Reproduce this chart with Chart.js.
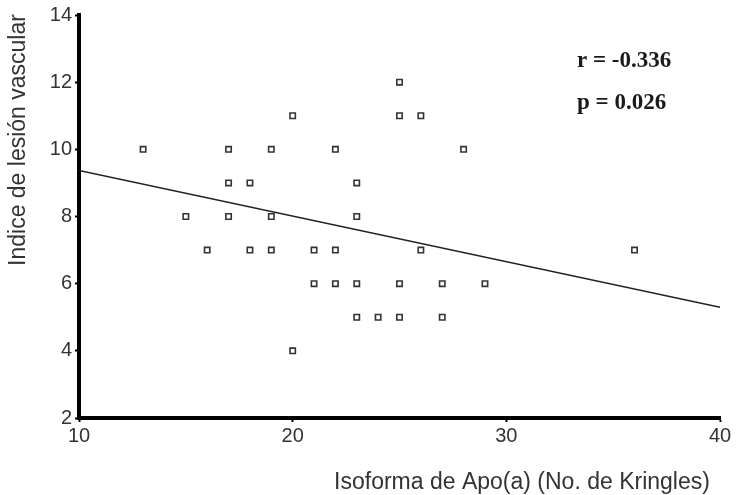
<!DOCTYPE html>
<html>
<head>
<meta charset="utf-8">
<script src="https://cdn.jsdelivr.net/npm/chart.js@4/dist/chart.umd.min.js"></script>
<style>
  html, body { margin: 0; padding: 0; background: #fff; }
  #wrap { width: 738px; height: 495px; }
</style>
</head>
<body>
<div id="wrap"><canvas id="chart"></canvas></div>
<script>
// kringles (x) and vascular lesion index (y)
const kringles = [13, 15, 16, 17, 17, 17, 18, 18, 19, 19, 19, 20, 20, 21, 21, 22, 22, 22,
                  23, 23, 23, 23, 24, 25, 25, 25, 25, 26, 26, 27, 27, 28, 29, 36];
const lesion   = [10, 8, 7, 10, 9, 8, 9, 7, 10, 8, 7, 11, 4, 7, 6, 10, 7, 6,
                  9, 8, 6, 5, 5, 12, 11, 6, 5, 11, 7, 6, 5, 10, 6, 7];

// fitted regression line end points
const fitX = [10, 40];
const fitY = [9.37, 5.3];

const statLines = ['r = -0.336', 'p = 0.026'];
const xTitle = 'Isoforma de Apo(a) (No. de Kringles)';
const yTitle = 'Indice de lesión vascular';

const points = kringles.map((x, i) => ({ x: x, y: lesion[i] }));
const fit = fitX.map((x, i) => ({ x: x, y: fitY[i] }));

const sans = '"Liberation Sans", Arial, sans-serif';

const textPlugin = {
    id: 'texts',
    afterDraw(chart) {
        const ctx = chart.ctx;
        ctx.save();
        ctx.fillStyle = '#1a1a1a';
        ctx.font = 'bold 23px "Liberation Serif", "Times New Roman", serif';
        ctx.textAlign = 'left';
        ctx.textBaseline = 'middle';
        ctx.fillText(statLines[0], 577, 61);
        ctx.fillText(statLines[1], 577, 103);

        ctx.font = '23px ' + sans;
        ctx.fillStyle = '#333';
        ctx.textAlign = 'center';
        ctx.fillText(xTitle, 522, 483);

        ctx.translate(19, 140);
        ctx.rotate(-Math.PI / 2);
        ctx.fillText(yTitle, 0, 0);
        ctx.restore();
    }
};

new Chart(document.getElementById('chart'), {
    type: 'scatter',
    data: {
        datasets: [{
            data: points,
            pointStyle: 'rect',
            pointRadius: 3.8,
            pointHoverRadius: 3.8,
            borderWidth: 1.6,
            borderColor: '#333',
            backgroundColor: '#fff'
        }, {
            data: fit,
            showLine: true,
            pointRadius: 0,
            borderWidth: 1.5,
            borderColor: '#222'
        }]
    },
    options: {
        responsive: true,
        maintainAspectRatio: false,
        animation: false,
        events: [],
        layout: { padding: { top: 15, right: 18, left: 0, bottom: 0 } },
        plugins: {
            legend: { display: false },
            tooltip: { enabled: false }
        },
        scales: {
            x: {
                min: 10,
                max: 40,
                afterFit(scale) { scale.height = 77; },
                ticks: {
                    stepSize: 10,
                    color: '#333',
                    padding: 2,
                    font: { size: 20, family: sans }
                },
                grid: {
                    drawOnChartArea: false,
                    tickLength: 4,
                    tickWidth: 2,
                    tickColor: '#000'
                },
                border: { color: '#000', width: 4 }
            },
            y: {
                min: 2,
                max: 14,
                afterFit(scale) { scale.width = 79; },
                ticks: {
                    stepSize: 2,
                    color: '#333',
                    padding: 3,
                    font: { size: 20, family: sans }
                },
                grid: {
                    drawOnChartArea: false,
                    tickLength: 4,
                    tickWidth: 2,
                    tickColor: '#000'
                },
                border: { color: '#000', width: 4 }
            }
        }
    },
    plugins: [textPlugin]
});
</script>
</body>
</html>
